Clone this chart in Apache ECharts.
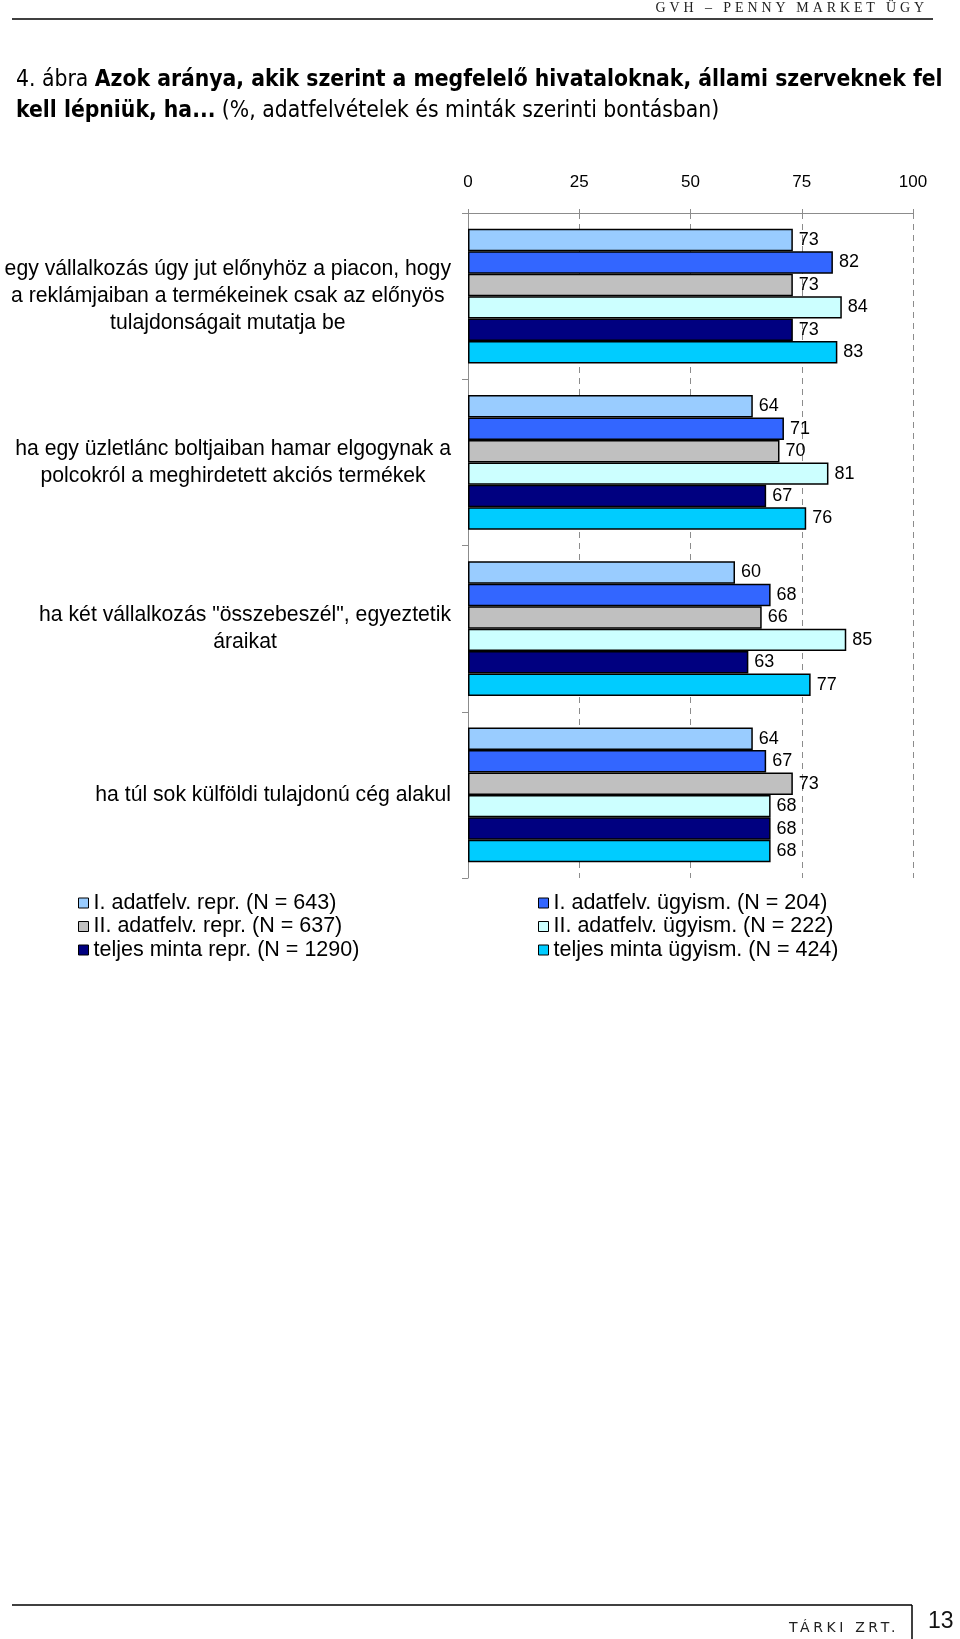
<!DOCTYPE html>
<html>
<head>
<meta charset="utf-8">
<script src="https://cdn.jsdelivr.net/npm/echarts@6/dist/echarts.min.js"></script>
<style>
  html, body { margin: 0; padding: 0; background: #fff; }
  #wrap { position: relative; width: 960px; height: 1639px; }
  #chart { position: absolute; left: 0; top: 0; width: 960px; height: 1639px; }
  .hdr { position: absolute; right: 32px; top: 0px; font-family: "Liberation Serif", "DejaVu Serif", serif; font-size: 14px; letter-spacing: 3.9px; color: #222; line-height: 16px; }
  .foot { position: absolute; left: 789px; top: 1618px; font-family: "DejaVu Sans", sans-serif; font-size: 14px; letter-spacing: 3.6px; color: #222; line-height: 18px; }
  .pg { position: absolute; left: 928px; top: 1607px; font-family: "Liberation Sans", Arial, sans-serif; font-size: 23px; color: #111; line-height: 26px; }
</style>
</head>
<body>
<div id="wrap">
  <div id="chart"></div>
  <div class="hdr">GVH – PENNY MARKET ÜGY</div>
  <div class="foot">TÁRKI ZRT.</div>
  <div class="pg">13</div>
</div>
<script>
// ---- data ----
var categories = [
  'egy vállalkozás úgy jut előnyhöz a piacon, hogy\na reklámjaiban a termékeinek csak az előnyös\ntulajdonságait mutatja be',
  'ha egy üzletlánc boltjaiban hamar elgogynak a\npolcokról a meghirdetett akciós termékek',
  'ha két vállalkozás "összebeszél", egyeztetik\náraikat',
  'ha túl sok külföldi tulajdonú cég alakul'
];
var seriesNames = [
  'I. adatfelv. repr. (N = 643)',
  'I. adatfelv. ügyism. (N = 204)',
  'II. adatfelv. repr. (N = 637)',
  'II. adatfelv. ügyism. (N = 222)',
  'teljes minta repr. (N = 1290)',
  'teljes minta ügyism. (N = 424)'
];
var seriesColors = ['#99CCFF', '#3366FF', '#C0C0C0', '#CCFFFF', '#000080', '#00CCFF'];
var s1Repr   = [73, 64, 60, 64];
var s1Ugy    = [82, 71, 68, 67];
var s2Repr   = [73, 70, 66, 73];
var s2Ugy    = [84, 81, 85, 68];
var sAllRepr = [73, 67, 63, 68];
var sAllUgy  = [83, 76, 77, 68];
var xTicks = [0, 25, 50, 75, 100];

var allValues = [s1Repr, s1Ugy, s2Repr, s2Ugy, sAllRepr, sAllUgy];

var chart = echarts.init(document.getElementById('chart'), null, { renderer: 'canvas' });

var series = allValues.map(function (vals, i) {
  return {
    name: seriesNames[i],
    type: 'bar',
    data: vals,
    barGap: '0%',
    barCategoryGap: '19%',
    itemStyle: { color: seriesColors[i], borderColor: '#000', borderWidth: 1.5 },
    label: {
      show: true, position: 'right', distance: 6,
      color: '#000', fontSize: 18, fontFamily: '"Liberation Sans", Arial, sans-serif'
    },
    emphasis: { disabled: true },
    animation: false
  };
});

var legendBase = {
  orient: 'vertical',
  padding: 0,
  itemWidth: 10, itemHeight: 10, itemGap: 1.5,
  icon: 'rect',
  itemStyle: { borderColor: '#000', borderWidth: 1 },
  textStyle: { fontSize: 21.5, color: '#000', fontFamily: '"Liberation Sans", Arial, sans-serif' },
  selectedMode: false
};

var titleFont = '"DejaVu Sans Condensed", "DejaVu Sans", sans-serif';

chart.setOption({
  animation: false,
  grid: { left: 468, right: 47, top: 213, height: 665, containLabel: false, outerBoundsMode: 'none' },
  xAxis: {
    type: 'value', position: 'top', min: 0, max: 100, interval: 25,
    axisLine: { show: true, lineStyle: { color: '#8c8c8c', width: 1 } },
    axisTick: { show: true, length: 4, lineStyle: { color: '#8c8c8c' } },
    axisLabel: {
      margin: 22, fontSize: 17, color: '#000', fontFamily: '"Liberation Sans", Arial, sans-serif',
      formatter: function (v) { return xTicks.indexOf(v) >= 0 ? String(v) : ''; }
    },
    splitLine: { show: true, lineStyle: { color: '#8c8c8c', type: [6, 5], width: 1 } }
  },
  yAxis: {
    type: 'category', inverse: true, data: categories,
    axisLine: { show: true, lineStyle: { color: '#8c8c8c', width: 1 } },
    axisTick: { show: true, length: 6, lineStyle: { color: '#8c8c8c' } },
    axisLabel: {
      margin: 17, color: '#000',
      formatter: function (v) {
        return v.split('\n').map(function (l) { return '{c|' + l + '}'; }).join('\n');
      },
      rich: {
        c: { align: 'center', fontSize: 21.2, lineHeight: 27, color: '#000', fontFamily: '"Liberation Sans", Arial, sans-serif' }
      }
    }
  },
  legend: [
    Object.assign({}, legendBase, { left: 78, top: 892, data: [seriesNames[0], seriesNames[2], seriesNames[4]] }),
    Object.assign({}, legendBase, { left: 538, top: 892, data: [seriesNames[1], seriesNames[3], seriesNames[5]] })
  ],
  graphic: [
    { type: 'line', shape: { x1: 12, y1: 19, x2: 933, y2: 19 }, style: { stroke: '#000', lineWidth: 1.5 }, silent: true },
    {
      type: 'text', left: 16, top: 69,
      style: {
        text: '{n|4. ábra }{b|Azok aránya, akik szerint a megfelelő hivataloknak, állami szerveknek fel}',
        rich: {
          n: { fontSize: 22.7, fontFamily: titleFont, fill: '#000' },
          b: { fontSize: 22.7, fontWeight: 'bold', fontFamily: titleFont, fill: '#000' }
        }
      }
    },
    {
      type: 'text', left: 16, top: 100,
      style: {
        text: '{b|kell lépniük, ha...}{n| (%, adatfelvételek és minták szerinti bontásban)}',
        rich: {
          n: { fontSize: 22.7, fontFamily: titleFont, fill: '#000' },
          b: { fontSize: 22.7, fontWeight: 'bold', fontFamily: titleFont, fill: '#000' }
        }
      }
    },
    { type: 'line', shape: { x1: 12, y1: 1605, x2: 912, y2: 1605 }, style: { stroke: '#000', lineWidth: 1.5 }, silent: true },
    { type: 'line', shape: { x1: 912, y1: 1605, x2: 912, y2: 1639 }, style: { stroke: '#000', lineWidth: 1.5 }, silent: true }
  ],
  series: series
});
</script>
</body>
</html>
